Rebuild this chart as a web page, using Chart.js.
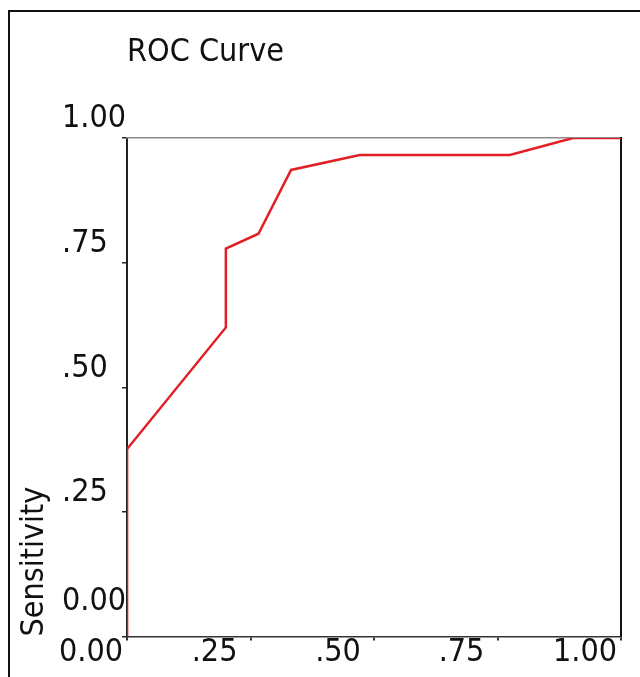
<!DOCTYPE html>
<html>
<head>
<meta charset="utf-8">
<script src="https://cdn.jsdelivr.net/npm/chart.js@4"></script>
<style>
  html, body { margin: 0; padding: 0; background: #fff; overflow: hidden; }
  body { width: 640px; height: 677px; position: relative; }
  #frame { position: absolute; left: 8px; top: 10px; width: 700px; height: 700px; border: 2px solid #111; box-sizing: border-box; }
  #rocChart { position: absolute; left: 0; top: 0; }
</style>
</head>
<body>
<div id="frame"></div>
<canvas id="rocChart" width="680" height="677"></canvas>
<script>
    // ROC points (1 - specificity, sensitivity)
    const falsePositiveRate = [0, 0, 0.200, 0.200, 0.266, 0.332, 0.471, 0.775, 0.903, 1.0];
    const sensitivity = [0, 0.376, 0.620, 0.778, 0.808, 0.936, 0.966, 0.966, 1.0, 1.0];
    const tickValues = [0, 0.25, 0.5, 0.75, 1];
    const tickLabels = ['0.00', '.25', '.50', '.75', '1.00'];

    const labelFor = value => {
        const i = tickValues.findIndex(v => Math.abs(v - value) < 1e-6);
        return i >= 0 ? tickLabels[i] : '';
    };

    Chart.defaults.font.family = "'DejaVu Sans Condensed', 'DejaVu Sans', sans-serif";
    Chart.defaults.font.size = 32;
    Chart.defaults.font.lineHeight = 1;
    Chart.defaults.color = '#111';

    const points = falsePositiveRate.map((x, i) => ({ x: x, y: sensitivity[i] }));

    const ctx = document.getElementById('rocChart').getContext('2d');
    new Chart(ctx, {
        type: 'scatter',
        data: {
            datasets: [{
                label: 'ROC',
                data: points,
                showLine: true,
                borderColor: '#e21f26',
                borderWidth: 2.5,
                pointRadius: 0,
                tension: 0
            }]
        },
        options: {
            responsive: false,
            animation: false,
            layout: {
                padding: { left: 10, right: 59, top: 10, bottom: 12.5 }
            },
            plugins: {
                legend: { display: false },
                tooltip: { enabled: false },
                title: {
                    display: true,
                    text: 'ROC Curve',
                    align: 'start',
                    fullSize: false,
                    color: '#111',
                    font: { size: 32, weight: 'normal', lineHeight: 1 },
                    padding: { top: 27, bottom: 69 }
                }
            },
            scales: {
                x: {
                    type: 'linear',
                    min: 0,
                    max: 1,
                    afterBuildTicks: axis => { axis.ticks = tickValues.map(v => ({ value: v })); },
                    grid: { drawOnChartArea: false, drawTicks: true, tickLength: 4, color: '#333', lineWidth: 2 },
                    border: { color: '#333', width: 1.5 },
                    ticks: {
                        callback: value => labelFor(value),
                        padding: -4,
                        labelOffset: -36,
                        maxRotation: 0,
                        autoSkip: false
                    }
                },
                y: {
                    type: 'linear',
                    min: 0,
                    max: 1,
                    weight: 0,
                    afterBuildTicks: axis => { axis.ticks = tickValues.map(v => ({ value: v })); },
                    grid: { drawOnChartArea: false, drawTicks: true, tickLength: 5, color: '#222', lineWidth: 1.5 },
                    border: { color: '#222', width: 2 },
                    ticks: {
                        // the bottom label sits a bit higher in the original
                        callback: value => value === 0 ? [labelFor(value), ''] : labelFor(value),
                        crossAlign: 'far',
                        padding: -2,
                        labelOffset: -19,
                        autoSkip: false
                    }
                },
                // title-only axis, kept outside the tick labels
                yTitle: {
                    type: 'linear',
                    position: 'left',
                    min: 0,
                    max: 1,
                    weight: 1,
                    grid: { display: false, drawTicks: false },
                    border: { display: false },
                    ticks: { display: false },
                    title: {
                        display: true,
                        text: 'Sensitivity',
                        align: 'start',
                        color: '#111',
                        font: { size: 32, lineHeight: 1 },
                        padding: { top: 9, bottom: 11 }
                    }
                },
                x2: {
                    type: 'linear',
                    position: 'top',
                    min: 0,
                    max: 1,
                    grid: { display: false, drawTicks: false },
                    border: { color: '#8a8a8a', width: 1.5 },
                    ticks: { display: false }
                },
                y2: {
                    type: 'linear',
                    position: 'right',
                    min: 0,
                    max: 1,
                    grid: { display: false, drawTicks: false },
                    border: { color: '#111', width: 2 },
                    ticks: { display: false }
                }
            }
        }
    });
</script>
</body>
</html>
